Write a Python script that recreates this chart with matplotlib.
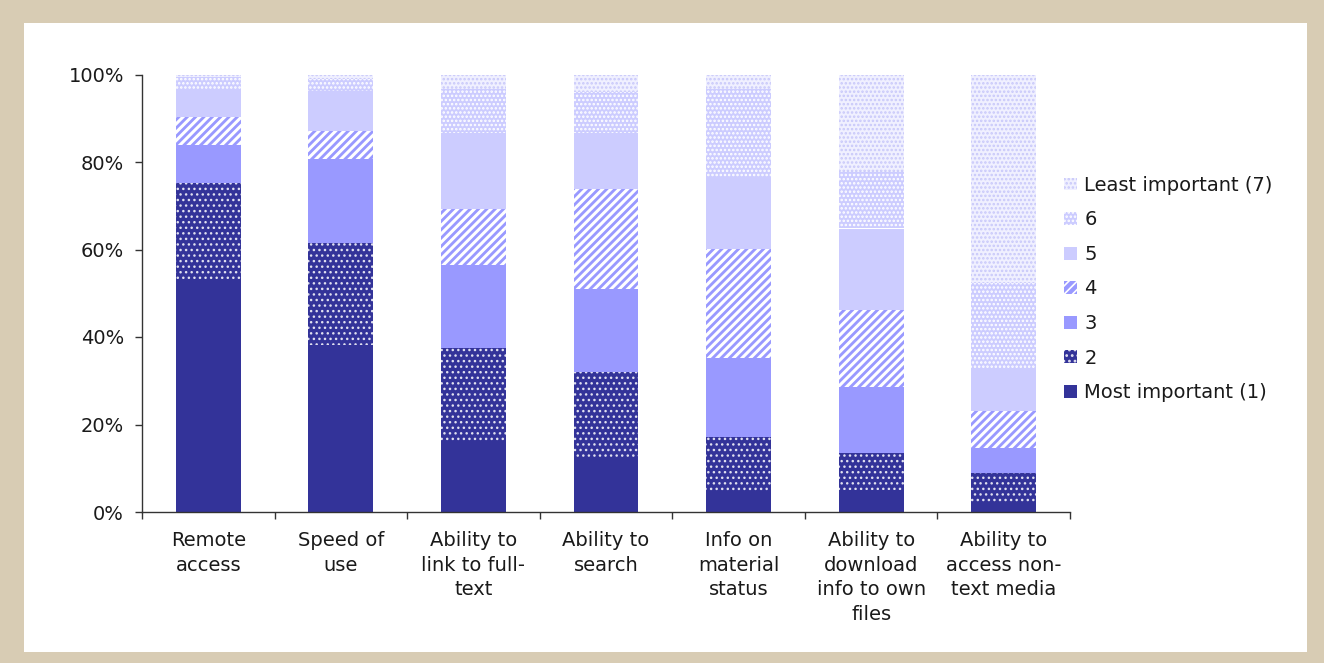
import matplotlib
matplotlib.use("Agg")
import matplotlib.pyplot as plt
from matplotlib.patches import Rectangle
import numpy as np

categories = ["Remote\naccess", "Speed of\nuse", "Ability to\nlink to full-\ntext",
              "Ability to\nsearch", "Info on\nmaterial\nstatus",
              "Ability to\ndownload\ninfo to own\nfiles", "Ability to\naccess non-\ntext media"]

series_names = ["Most important (1)", "2", "3", "4", "5", "6", "Least important (7)"]

rank1 = [53.2, 38.2, 15.8, 12.3, 4.4, 5.0, 2.0]
rank2 = [22.1, 23.3, 21.7, 19.8, 12.8, 8.4, 7.0]
rank3 = [8.5, 19.2, 19.0, 18.9, 18.1, 15.2, 5.7]
rank4 = [6.4, 6.4, 12.8, 22.8, 24.8, 17.6, 8.5]
rank5 = [6.4, 9.2, 17.4, 12.9, 16.4, 18.6, 9.5]
rank6 = [2.9, 2.6, 10.1, 9.4, 20.3, 13.0, 19.7]
rank7 = [0.5, 1.1, 3.2, 3.9, 3.2, 22.2, 47.6]

yticks = [0, 20, 40, 60, 80, 100]
ytick_labels = ["0%", "20%", "40%", "60%", "80%", "100%"]

series = [rank1, rank2, rank3, rank4, rank5, rank6, rank7]
styles = [
    dict(facecolor="#333399", edgecolor="#333399", hatch=None, hlw=1.0),
    dict(facecolor="#333399", edgecolor="#E0E0F0", hatch="...", hlw=1.0),
    dict(facecolor="#9999FF", edgecolor="#9999FF", hatch=None, hlw=1.0),
    dict(facecolor="#9999FF", edgecolor="#FFFFFF", hatch="////", hlw=2.2),
    dict(facecolor="#CCCCFF", edgecolor="#CCCCFF", hatch=None, hlw=1.0),
    dict(facecolor="#CCCCFF", edgecolor="#FFFFFF", hatch="....", hlw=1.2),
    dict(facecolor="#F0F0FF", edgecolor="#C8C8FA", hatch="....", hlw=1.2),
]

plt.rcParams["font.family"] = ["DejaVu Sans"]

fig = plt.figure(figsize=(13.24, 6.63), dpi=100, facecolor="#D8CCB4")
fig.patches.append(Rectangle((24 / 1324, 11 / 663), (1307 - 24) / 1324, (663 - 11 - 23) / 663,
                             transform=fig.transFigure, facecolor="white", edgecolor="none",
                             zorder=-10))

ax = fig.add_axes([142 / 1324, 151 / 663, (1070 - 142) / 1324, (512 - 74.5) / 663])
ax.set_facecolor("white")

x = np.arange(len(categories))
bottom = np.zeros(len(categories))
handles = []
for vals, st, name in zip(series, styles, series_names):
    with plt.rc_context({"hatch.linewidth": st["hlw"]}):
        b = ax.bar(x, vals, width=0.49, bottom=bottom, facecolor=st["facecolor"],
                   edgecolor=st["edgecolor"], hatch=st["hatch"], linewidth=0, label=name)
    handles.append(b)
    bottom += np.array(vals)

ax.set_xlim(-0.5, len(categories) - 0.5)
ax.set_ylim(0, 100)
ax.set_yticks(yticks)
ax.set_yticklabels(ytick_labels, fontsize=14, color="#1a1a1a")
ax.set_xticks(x)
ax.set_xticklabels(categories, fontsize=14, color="#1a1a1a", linespacing=1.36,
                   verticalalignment="top")
ax.set_xticks(np.arange(len(categories) + 1) - 0.5, minor=True)
ax.tick_params(axis="x", which="major", length=0, pad=14)
ax.tick_params(axis="x", which="minor", length=5, width=1, color="#333333")
ax.tick_params(axis="y", length=5, width=1, color="#333333", pad=8)
for s in ["top", "right"]:
    ax.spines[s].set_visible(False)
for s in ["left", "bottom"]:
    ax.spines[s].set_color("#333333")
    ax.spines[s].set_linewidth(1)

with plt.rc_context({"hatch.linewidth": 1.2}):
    leg = fig.legend(handles[::-1], series_names[::-1], loc="center left",
                     bbox_to_anchor=(1064 / 1324, 1 - 289 / 663), frameon=False,
                     fontsize=14, handlelength=0.65, handleheight=0.65, handletextpad=0.4,
                     labelspacing=0.8, borderpad=0, borderaxespad=0)
for t in leg.get_texts():
    t.set_color("#1a1a1a")

fig.savefig("out.png", dpi=100, facecolor=fig.get_facecolor())
